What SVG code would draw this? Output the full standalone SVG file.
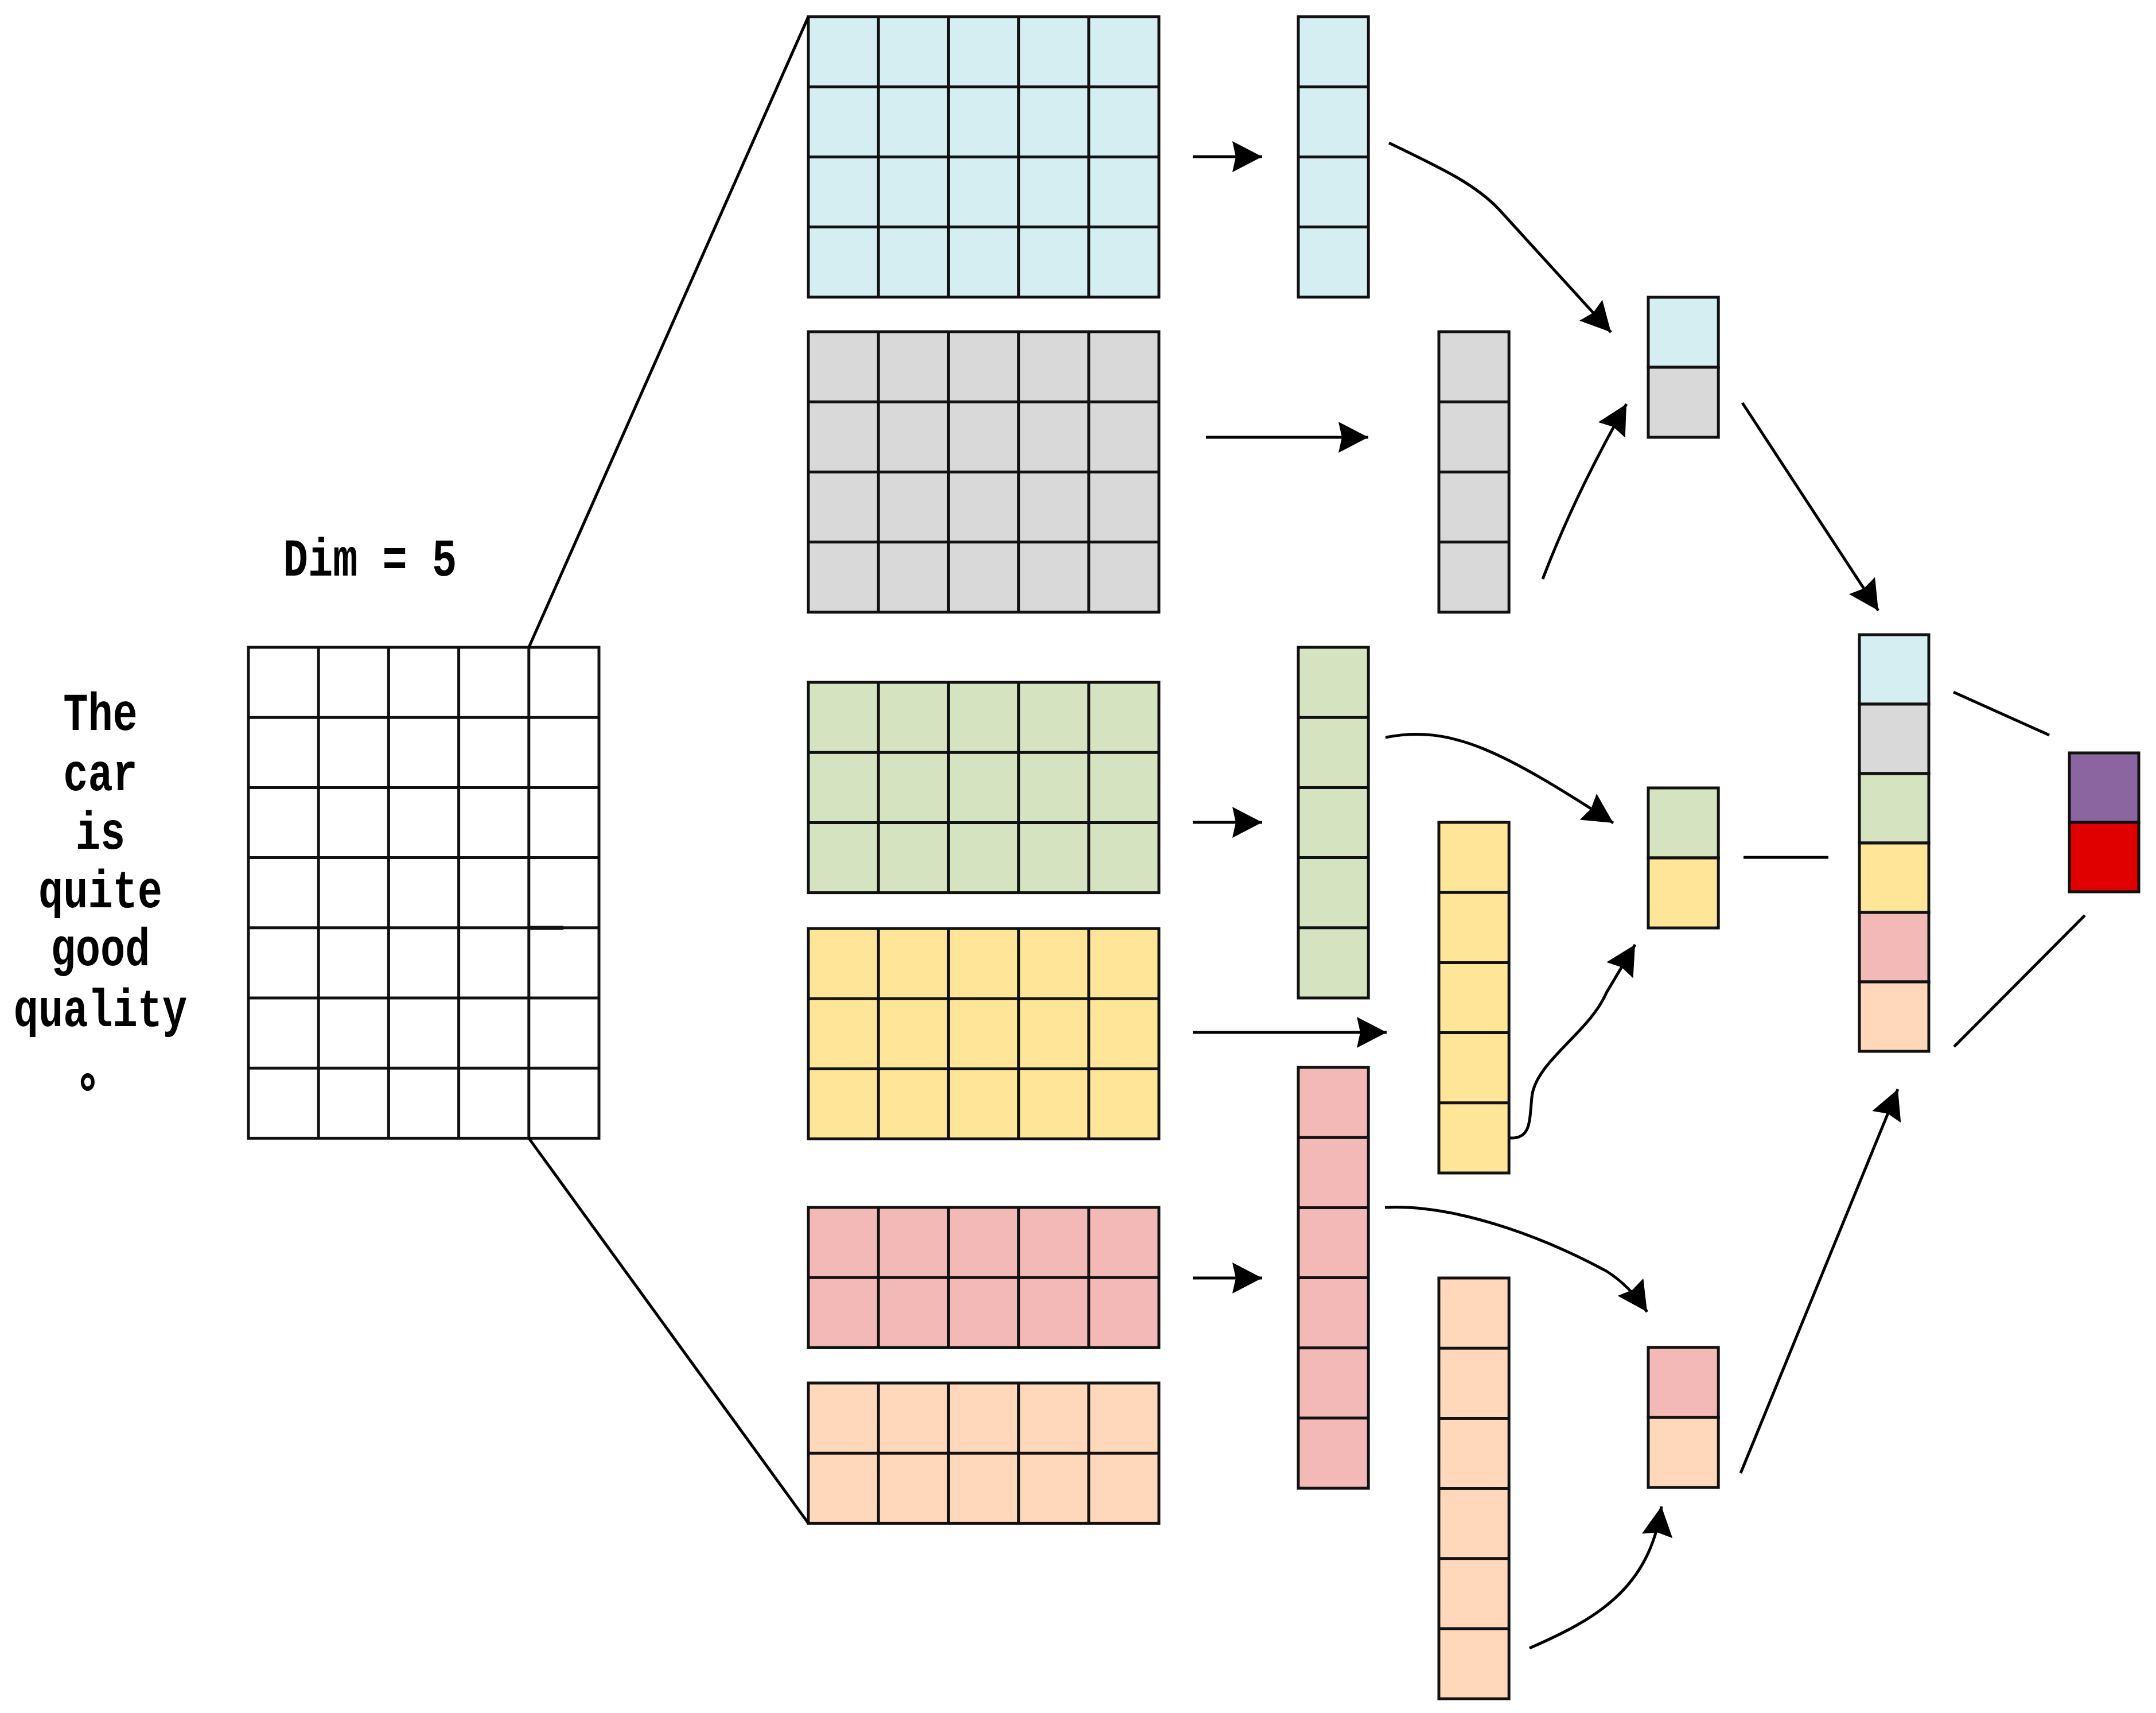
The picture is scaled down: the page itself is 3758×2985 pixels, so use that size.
<svg xmlns="http://www.w3.org/2000/svg" width="3758" height="2985" viewBox="0 0 3758 2985">
<style>
.g{stroke:#111;stroke-width:5;fill:none}
.b{stroke:#111;stroke-width:5}
.c1{fill:#D5EEF2}.c2{fill:#D9D9D9}.c3{fill:#D5E3C0}.c4{fill:#FFE598}.c5{fill:#F3B9B7}.c6{fill:#FFD7BA}.c7{fill:#8A65A0}.c8{fill:#E00000}.cw{fill:#fff}
.t{font-family:"Liberation Mono","Noto Sans CJK SC",monospace;font-weight:bold;font-size:72px;fill:#000;text-anchor:middle}
.e{stroke:#000;stroke-width:5;fill:none}
</style>
<defs>
<marker id="ah" markerUnits="userSpaceOnUse" markerWidth="70" markerHeight="70" viewBox="-60 -35 70 70" refX="0" refY="0" orient="auto">
<path d="M0,0 L-52,-27 L-46,0 L-52,27 Z" fill="#000"/>
</marker>
</defs>
<rect width="3758" height="2985" fill="#fff"/>

<g id="words">
<text class="t" transform="translate(175,1272) scale(1,1.28)">The</text>
<text class="t" transform="translate(175,1377) scale(1,1.28)">car</text>
<text class="t" transform="translate(175,1479) scale(1,1.28)">is</text>
<text class="t" transform="translate(175,1581) scale(1,1.28)">quite</text>
<text class="t" transform="translate(175,1682) scale(1,1.28)">good</text>
<text class="t" transform="translate(175,1788) scale(1,1.28)">quality</text>
<text class="t" transform="translate(175,1893) scale(1,1.28)" style="font-weight:900">。</text>
</g>
<g id="dim-label">
<text class="t" transform="translate(645,1003) scale(1,1.28)">Dim = 5</text>
</g>

<g id="input-matrix">
<rect class="cw b" x="433" y="1128" width="611" height="855.4"/>
<path class="g" d="M555.2,1128V1983.4M677.4,1128V1983.4M799.6,1128V1983.4M921.8,1128V1983.4M433,1250.2H1044M433,1372.4H1044M433,1494.6H1044M433,1616.8H1044M433,1739H1044M433,1861.2H1044"/>
<path d="M923,1616.8H982" stroke="#111" stroke-width="7"/>
</g>

<g id="filter-cyan">
<rect class="c1 b" x="1409" y="29" width="611" height="488.8"/>
<path class="g" d="M1531.2,29V517.8M1653.4,29V517.8M1775.6,29V517.8M1897.8,29V517.8M1409,151.2H2020M1409,273.4H2020M1409,395.6H2020"/>
</g>
<g id="filter-grey">
<rect class="c2 b" x="1409" y="578" width="611" height="488.8"/>
<path class="g" d="M1531.2,578V1066.8M1653.4,578V1066.8M1775.6,578V1066.8M1897.8,578V1066.8M1409,700.2H2020M1409,822.4H2020M1409,944.6H2020"/>
</g>
<g id="filter-green">
<rect class="c3 b" x="1409" y="1189" width="611" height="366.6"/>
<path class="g" d="M1531.2,1189V1555.6M1653.4,1189V1555.6M1775.6,1189V1555.6M1897.8,1189V1555.6M1409,1311.2H2020M1409,1433.4H2020"/>
</g>
<g id="filter-yellow">
<rect class="c4 b" x="1409" y="1618" width="611" height="366.6"/>
<path class="g" d="M1531.2,1618V1984.6M1653.4,1618V1984.6M1775.6,1618V1984.6M1897.8,1618V1984.6M1409,1740.2H2020M1409,1862.4H2020"/>
</g>
<g id="filter-pink">
<rect class="c5 b" x="1409" y="2104" width="611" height="244.4"/>
<path class="g" d="M1531.2,2104V2348.4M1653.4,2104V2348.4M1775.6,2104V2348.4M1897.8,2104V2348.4M1409,2226.2H2020"/>
</g>
<g id="filter-peach">
<rect class="c6 b" x="1409" y="2410" width="611" height="244.4"/>
<path class="g" d="M1531.2,2410V2654.4M1653.4,2410V2654.4M1775.6,2410V2654.4M1897.8,2410V2654.4M1409,2532.2H2020"/>
</g>

<g id="map-cyan">
<rect class="c1 b" x="2263" y="29" width="122.2" height="488.8"/>
<path class="g" d="M2263,151.2H2385.2M2263,273.4H2385.2M2263,395.6H2385.2"/>
</g>
<g id="map-grey">
<rect class="c2 b" x="2508" y="578" width="122.2" height="488.8"/>
<path class="g" d="M2508,700.2H2630.2M2508,822.4H2630.2M2508,944.6H2630.2"/>
</g>
<g id="map-green">
<rect class="c3 b" x="2263" y="1128" width="122.2" height="611"/>
<path class="g" d="M2263,1250.2H2385.2M2263,1372.4H2385.2M2263,1494.6H2385.2M2263,1616.8H2385.2"/>
</g>
<g id="map-yellow">
<rect class="c4 b" x="2508" y="1433" width="122.2" height="611"/>
<path class="g" d="M2508,1555.2H2630.2M2508,1677.4H2630.2M2508,1799.6H2630.2M2508,1921.8H2630.2"/>
</g>
<g id="map-pink">
<rect class="c5 b" x="2263" y="1860" width="122.2" height="733.2"/>
<path class="g" d="M2263,1982.2H2385.2M2263,2104.4H2385.2M2263,2226.6H2385.2M2263,2348.8H2385.2M2263,2471H2385.2"/>
</g>
<g id="map-peach">
<rect class="c6 b" x="2508" y="2227" width="122.2" height="733.2"/>
<path class="g" d="M2508,2349.2H2630.2M2508,2471.4H2630.2M2508,2593.6H2630.2M2508,2715.8H2630.2M2508,2838H2630.2"/>
</g>

<g id="pool-1">
<rect class="c1 b" x="2873" y="518" width="122.2" height="122"/>
<rect class="c2 b" x="2873" y="640" width="122.2" height="122"/>
</g>
<g id="pool-2">
<rect class="c3 b" x="2873" y="1373" width="122.2" height="122"/>
<rect class="c4 b" x="2873" y="1495" width="122.2" height="122"/>
</g>
<g id="pool-3">
<rect class="c5 b" x="2873" y="2348" width="122.2" height="122"/>
<rect class="c6 b" x="2873" y="2470" width="122.2" height="122"/>
</g>

<g id="concat">
<rect class="c1 b" x="3241" y="1106" width="121" height="121"/>
<rect class="c2 b" x="3241" y="1227" width="121" height="121"/>
<rect class="c3 b" x="3241" y="1348" width="121" height="121"/>
<rect class="c4 b" x="3241" y="1469" width="121" height="121"/>
<rect class="c5 b" x="3241" y="1590" width="121" height="121"/>
<rect class="c6 b" x="3241" y="1711" width="121" height="121"/>
</g>
<g id="output">
<rect class="c7 b" x="3607" y="1312" width="121" height="121"/>
<rect class="c8 b" x="3607" y="1433" width="121" height="121"/>
</g>

<g id="connectors">
<path class="e" d="M921.8,1128L1409,29"/>
<path class="e" d="M921.8,1983.4L1409,2654.4"/>
<path class="e" marker-end="url(#ah)" d="M2079,273L2200,273"/>
<path class="e" marker-end="url(#ah)" d="M2102,762L2385,762"/>
<path class="e" marker-end="url(#ah)" d="M2079,1433L2200,1433"/>
<path class="e" marker-end="url(#ah)" d="M2079,1799L2417,1799"/>
<path class="e" marker-end="url(#ah)" d="M2079,2227L2200,2227"/>
<path class="e" marker-end="url(#ah)" d="M2421,249C2510,292 2570,320 2612,364L2808,579"/>
<path class="e" marker-end="url(#ah)" d="M2689,1009Q2745,862 2835,704"/>
<path class="e" marker-end="url(#ah)" d="M3037,702L3274,1064"/>
<path class="e" marker-end="url(#ah)" d="M2415,1285C2530,1262 2620,1310 2812,1434"/>
<path class="e" marker-end="url(#ah)" d="M2632,1983C2668,1985 2666,1955 2670,1912C2676,1850 2770,1800 2800,1730L2850,1646"/>
<path class="e" d="M3039,1494L3187,1494"/>
<path class="e" marker-end="url(#ah)" d="M2414,2104C2530,2098 2680,2150 2800,2215Q2840,2240 2871,2286"/>
<path class="e" marker-end="url(#ah)" d="M2666,2872C2780,2822 2875,2770 2896,2625"/>
<path class="e" marker-end="url(#ah)" d="M3034,2567L3308,1898"/>
<path class="e" d="M3405,1206L3572,1281"/>
<path class="e" d="M3406,1824L3634,1595"/>
</g>
</svg>
